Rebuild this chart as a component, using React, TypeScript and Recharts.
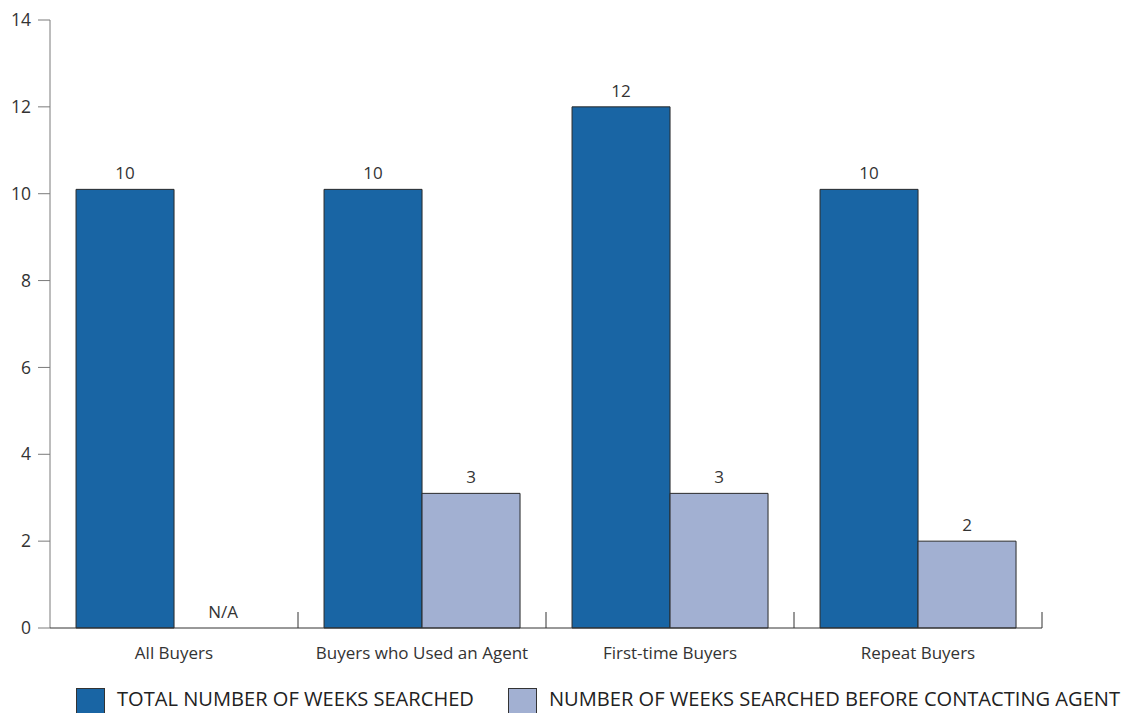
import React from "react";
import { BarChart, Bar, XAxis, YAxis, LabelList } from "recharts";

const categories = ["All Buyers", "Buyers who Used an Agent", "First-time Buyers", "Repeat Buyers"];
const totalWeeks = [10.1, 10.1, 12, 10.1];
const beforeAgentWeeks: (number | null)[] = [null, 3.1, 3.1, 2];
const yTicks = [0, 2, 4, 6, 8, 10, 12, 14];

const seriesNames = ["TOTAL NUMBER OF WEEKS SEARCHED", "NUMBER OF WEEKS SEARCHED BEFORE CONTACTING AGENT"];
const DARK = "#1965a4";
const LIGHT = "#a2b0d2";
const FONT = "'Open Sans', 'Noto Sans', sans-serif";

const data = categories.map((name, i) => ({
  name,
  total: totalWeeks[i],
  before: beforeAgentWeeks[i],
}));

// boundary ticks sit halfway between category centres, pointing up
const BAND_HALF = 124;

const CategoryTick = (props: any) => {
  const { x, y, payload } = props;
  const base = y - 8;
  return (
    <g>
      <line x1={x + BAND_HALF} x2={x + BAND_HALF} y1={base - 16} y2={base} stroke="#333" strokeWidth={1} />
      <text x={x} y={y + 23} textAnchor="middle" fill="#333" fontSize={17} fontFamily={FONT}>
        {payload.value}
      </text>
    </g>
  );
};

const ValueLabel = (props: any) => {
  const { x, y, width, value } = props;
  return (
    <text x={Number(x) + Number(width) / 2} y={Number(y) - 10} textAnchor="middle" fill="#333" fontSize={17} fontFamily={FONT}>
      {Math.round(Number(value))}
    </text>
  );
};

// the dark bar carries the "N/A" marker for its missing neighbour
const TotalLabel = (props: any) => {
  const { x, y, width, height, index } = props;
  const missing = data[index] && data[index].before == null;
  return (
    <g>
      <ValueLabel {...props} />
      {missing && (
        <text
          x={Number(x) + Number(width) * 1.5}
          y={Number(y) + Number(height) - 10}
          textAnchor="middle"
          fill="#333"
          fontSize={17}
          fontFamily={FONT}
        >
          N/A
        </text>
      )}
    </g>
  );
};

const LegendBox = () => (
  <div style={{ position: "absolute", left: 76, top: 688, display: "flex", fontFamily: FONT }}>
    {seriesNames.map((s, i) => (
      <div key={s} style={{ display: "flex", alignItems: "flex-start", marginRight: i === 0 ? 34 : 0 }}>
        <div
          style={{
            width: 29,
            height: 30,
            background: i === 0 ? DARK : LIGHT,
            border: "1px solid #333",
            boxSizing: "border-box",
          }}
        />
        <span
          style={{
            marginLeft: 12,
            fontSize: 20.1,
            color: "#222",
            lineHeight: "22px",
            whiteSpace: "nowrap",
          }}
        >
          {s}
        </span>
      </div>
    ))}
  </div>
);

export default function App() {
  return (
    <div style={{ position: "absolute", left: 0, top: 0, width: 1127, height: 713, overflow: "hidden", background: "#fff" }}>
      <BarChart
        width={1127}
        height={680}
        data={data}
        margin={{ top: 20, right: 85, left: 0, bottom: 0 }}
        barCategoryGap="10.5%"
        barGap={0}
      >
        <YAxis
          width={50}
          domain={[0, 14]}
          ticks={yTicks}
          interval={0}
          axisLine={{ stroke: "#7a7a7a" }}
          tickLine={{ stroke: "#7a7a7a" }}
          tickSize={12}
          tickMargin={7}
          tick={{ fill: "#333", fontSize: 17.5, fontFamily: FONT }}
        />
        <XAxis
          dataKey="name"
          height={52}
          axisLine={{ stroke: "#333" }}
          tickLine={false}
          interval={0}
          tick={<CategoryTick />}
        />
        <Bar dataKey="total" fill={DARK} stroke="#2a2a2a" strokeWidth={1} isAnimationActive={false}>
          <LabelList dataKey="total" content={<TotalLabel />} />
        </Bar>
        <Bar dataKey="before" fill={LIGHT} stroke="#2a2a2a" strokeWidth={1} isAnimationActive={false}>
          <LabelList dataKey="before" content={<ValueLabel />} />
        </Bar>
      </BarChart>
      <LegendBox />
    </div>
  );
}
